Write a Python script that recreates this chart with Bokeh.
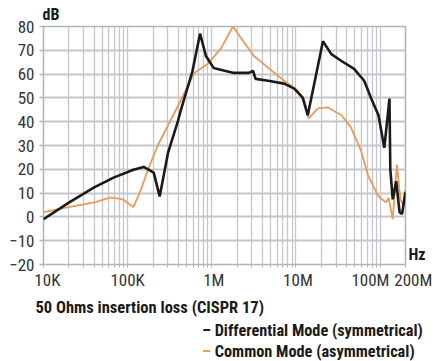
from bokeh.plotting import figure
from bokeh.layouts import column
from bokeh.models import FixedTicker, Range1d, LinearAxis, Title, AllLabels, Div
from bokeh.embed import file_html
from bokeh.resources import INLINE

# ---- data ----
diff_freq = [10e3, 20e3, 40e3, 68e3, 117e3, 155e3, 204e3, 240e3, 302e3, 398e3, 427e3,
             589e3, 724e3, 851e3, 1.05e6, 1.82e6, 2.75e6, 3.09e6, 3.31e6, 4.68e6, 7.24e6,
             9.55e6, 12e6, 13.8e6, 17.4e6, 20.9e6, 26.3e6, 34.7e6, 49e6, 64.6e6, 77.6e6,
             95.5e6, 112e6, 129e6, 132e6, 141e6, 155e6, 170e6, 182e6, 200e6]
diff_db = [-1, 6, 12.4, 16.5, 19.8, 21, 18.6, 8.6, 27, 40.6, 44.7,
           61.3, 77, 67.6, 62.6, 60.5, 60.5, 61.3, 58, 57.2, 56,
           53.9, 50.1, 42.7, 60, 73.8, 68.4, 65.5, 62.2, 57.2, 50.1,
           42.7, 29, 49.7, 20, 7.4, 15, 2, 1.2, 10.5]

comm_freq = [10e3, 20e3, 40e3, 63e3, 87e3, 105e3, 117e3, 141e3, 174e3, 229e3, 324e3,
             427e3, 617e3, 891e3, 1.29e6, 1.78e6, 2.24e6, 3.16e6, 4.68e6, 7.24e6, 10.5e6,
             12.6e6, 14.1e6, 18.2e6, 24e6, 34.7e6, 44.7e6, 58.9e6, 72.4e6, 95.5e6, 117e6,
             126e6, 141e6, 158e6, 174e6, 186e6, 200e6]
comm_db = [2, 4.1, 6.1, 8.2, 7.4, 5.3, 4.1, 10.7, 19.8, 30.2, 40.6,
           48.9, 60.5, 64.2, 70.9, 80, 75, 67.6, 62.6, 57.2, 53,
           48.9, 41.4, 45.6, 46, 42.7, 37.7, 28.1, 17, 8.6, 6.1,
           8, -1, 22, 7.4, 5.3, 11.5]

x_ticks = [1e4, 1e5, 1e6, 1e7, 1e8, 2e8]
x_tick_labels = ["10K", "100K", "1M", "10M", "100M", "200M"]
x_minor = [m * d for d in [1e4, 1e5, 1e6, 1e7] for m in range(2, 10)] + [2e8]
y_ticks = [80, 70, 60, 50, 40, 30, 20, 10, 0, -10, -20]

y_unit = "dB"
x_unit = "Hz"
title_text = "50 Ohms insertion loss (CISPR 17)"
legend_texts = ["Differential Mode (symmetrical)", "Common Mode (asymmetrical)"]
legend_colors = ["#1a1a1a", "#ec9a58"]

FONT = "'Noto Sans Condensed', 'Roboto Condensed', Roboto"
GRID = "#c3c7cc"
NB = "\u00a0"

p = figure(width=443, height=320, x_axis_type="log",
           x_range=Range1d(1e4, 2e8), y_range=Range1d(-20, 80),
           output_backend="svg", toolbar_location=None,
           min_border_left=43, min_border_right=38, min_border_top=25, min_border_bottom=54)
p.background_fill_color = "white"
p.border_fill_color = "white"
p.outline_line_color = "#b0b4b8"
p.outline_line_width = 1.5

# y unit as plot title
p.title.text = y_unit
p.title.align = "left"
p.title.offset = -1
p.title.standoff = 5
p.title.text_font = FONT
p.title.text_font_style = "bold"
p.title.text_font_size = "16px"
p.title.text_color = "#1a1a1a"

# x axis (labels nudged with non-breaking spaces as in the reference)
pads = [(2, 0), (0, 0), (1, 0), (1, 0), (0, 5), (4, 0)]
xa = p.xaxis[0]
xa.ticker = FixedTicker(ticks=x_ticks, minor_ticks=x_minor)
xa.major_label_overrides = {t: NB * l + s + NB * r for t, s, (l, r) in zip(x_ticks, x_tick_labels, pads)}
xa.major_label_policy = AllLabels()
xa.major_label_text_font = FONT
xa.major_label_text_font_size = "17px"
xa.major_label_text_color = "#333333"
xa.major_label_standoff = 2
xa.axis_line_color = None
xa.major_tick_line_color = "#b0b4b8"
xa.minor_tick_line_color = "#b0b4b8"
xa.major_tick_out = 3
xa.major_tick_in = 0
xa.minor_tick_out = 3
xa.minor_tick_in = 0

ya = p.yaxis[0]
ya.ticker = FixedTicker(ticks=y_ticks)
ya.axis_line_color = None
ya.major_tick_line_color = "#b0b4b8"
ya.major_tick_line_width = 1.5
ya.major_tick_out = 4
ya.major_tick_in = 0
ya.minor_tick_line_color = None
ya.major_label_text_font = FONT
ya.major_label_text_font_size = "17px"
ya.major_label_text_color = "#333333"
ya.major_label_standoff = 5

# x unit on a right-hand axis, just above the bottom edge
hz_pos = -16
ra = LinearAxis(ticker=FixedTicker(ticks=[hz_pos]), major_label_overrides={hz_pos: x_unit})
ra.axis_line_color = None
ra.major_tick_line_color = None
ra.minor_tick_line_color = None
ra.major_tick_out = 0
ra.major_tick_in = 0
ra.minor_tick_out = 0
ra.minor_tick_in = 0
ra.major_label_standoff = 3
ra.major_label_text_font = FONT
ra.major_label_text_font_style = "bold"
ra.major_label_text_font_size = "16px"
ra.major_label_text_color = "#1a1a1a"
p.add_layout(ra, "right")

p.xgrid.grid_line_color = GRID
p.xgrid.grid_line_width = 1.3
p.xgrid.minor_grid_line_color = GRID
p.xgrid.minor_grid_line_width = 1.3
p.ygrid.grid_line_color = GRID
p.ygrid.grid_line_width = 2

# curves
p.line(comm_freq, comm_db, line_color=legend_colors[1], line_width=1.8)
p.line(diff_freq, diff_db, line_color=legend_colors[0], line_width=2.6)

# caption
cap = Title(text=title_text, align="left", offset=-8, standoff=7,
            text_font=FONT, text_font_style="bold", text_font_size="16.5px",
            text_color="#1a1a1a")
p.add_layout(cap, "below")

# legend lines
lines = "<br>".join(
    f'<span style="color:{c}">\u2013</span>&nbsp;{t}' for t, c in zip(legend_texts, legend_colors))
div = Div(text=lines, width=443, height=41, margin=(0, 0, 0, 0),
          styles={"font-family": FONT,
                  "font-weight": "bold", "font-size": "16.3px", "line-height": "21px",
                  "padding-top": "0px", "padding-left": "202px", "color": "#1a1a1a",
                  "white-space": "nowrap", "box-sizing": "border-box"})

layout = column(p, div, spacing=0)
open("out.html", "w").write(file_html(layout, INLINE))
